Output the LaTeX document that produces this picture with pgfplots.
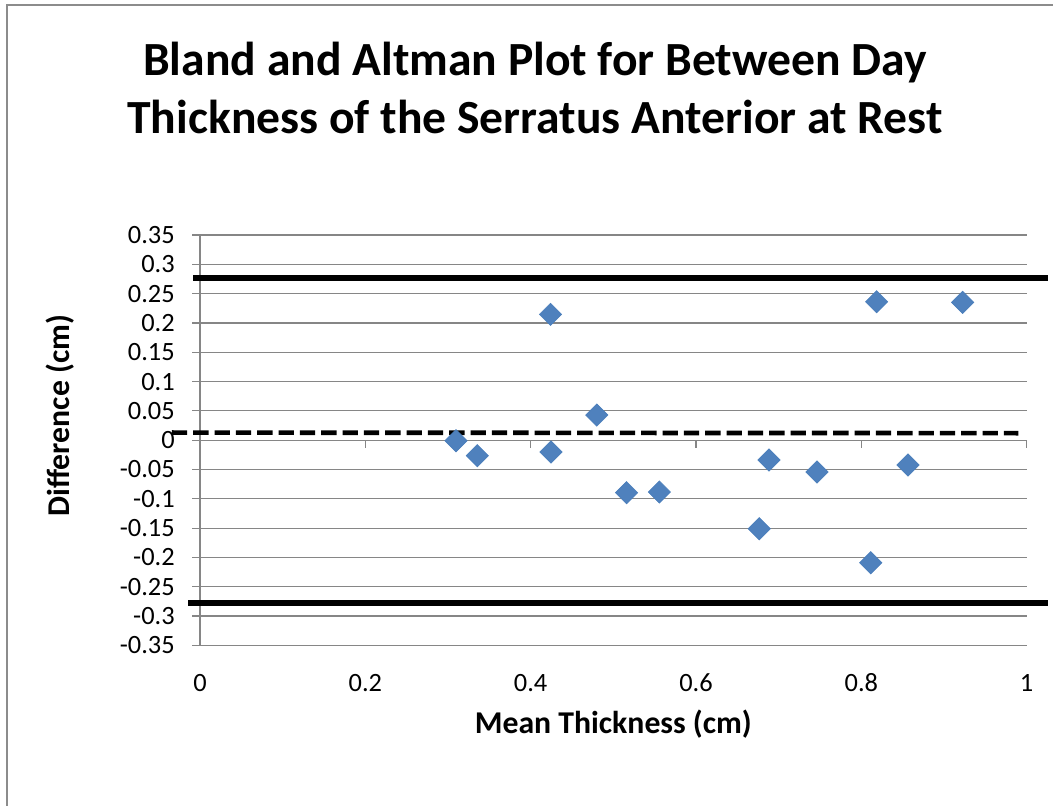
\documentclass[border=0pt]{standalone}
\usepackage{fontspec}
\setmainfont{Carlito}
\usepackage{pgfplots}
\pgfplotsset{compat=1.18}
\definecolor{gridgray}{HTML}{868686}
\definecolor{framegray}{HTML}{8C8C8C}
\definecolor{ptfill}{HTML}{4F81BD}
\definecolor{ptedge}{HTML}{4A7EBB}
\begin{document}
\begin{tikzpicture}
\useasboundingbox (-150pt,-120.5pt) rectangle (639.75pt,484pt);
\draw[framegray, line width=1.5pt] (-144.75pt,-130pt) -- (-144.75pt,480.2pt) -- (650pt,480.2pt);
\begin{axis}[
  at={(0,0)}, anchor=south west,
  scale only axis, width=620pt, height=307.7pt,
  xmin=0, xmax=1, ymin=-0.35, ymax=0.35,
  clip=false,
  axis line style={draw=none},
  xtick={0,0.2,0.4,0.6,0.8,1},
  xticklabels={0,0.2,0.4,0.6,0.8,1},
  ytick={-0.35,-0.3,-0.25,-0.2,-0.15,-0.1,-0.05,0,0.05,0.1,0.15,0.2,0.25,0.3,0.35},
  yticklabels={-0.35,-0.3,-0.25,-0.2,-0.15,-0.1,-0.05,0,0.05,0.1,0.15,0.2,0.25,0.3,0.35},
  ytick pos=left, xtick pos=bottom,
  tick align=outside, major tick length=6pt,
  xtick style={draw=none},
  ytick style={draw=gridgray, line width=0.9pt},
  ymajorgrids, major grid style={gridgray, line width=0.9pt},
  tick label style={font=\fontsize{19.8}{24}\selectfont, text=black},
  xticklabel style={anchor=base, yshift=-29pt},
  yticklabel style={anchor=east, inner sep=0pt, xshift=-12.75pt},
  xlabel={Mean Thickness (cm)},
  ylabel={Difference (cm)},
  label style={font=\fontsize{23.8}{28}\selectfont\bfseries},
  xlabel style={at={(axis description cs:0.5,-0.216)}, anchor=base},
  ylabel style={at={(axis description cs:-0.1573,0.56)}, anchor=base},
]
\draw[gridgray, line width=0.9pt] (axis cs:0,-0.35) -- (axis cs:0,0.35);
\draw[gridgray, line width=0.9pt] (axis cs:0,0) -- (axis cs:1,0);
\draw[gridgray, line width=0.9pt] (axis cs:0.2,0) -- ([yshift=-6pt]axis cs:0.2,0);
\draw[gridgray, line width=0.9pt] (axis cs:0.4,0) -- ([yshift=-6pt]axis cs:0.4,0);
\draw[gridgray, line width=0.9pt] (axis cs:0.6,0) -- ([yshift=-6pt]axis cs:0.6,0);
\draw[gridgray, line width=0.9pt] (axis cs:0.8,0) -- ([yshift=-6pt]axis cs:0.8,0);
\draw[gridgray, line width=0.9pt] (axis cs:1,0) -- ([yshift=-6pt]axis cs:1,0);
\addplot[only marks, mark=square*, mark size=5.9pt, mark options={rotate=45, fill=ptfill, draw=ptedge, line width=0.5pt}] coordinates {
(0.3097,-0.0009) (0.3355,-0.0265) (0.4240,0.2147) (0.4246,-0.0202)
(0.4800,0.0429) (0.5160,-0.0896) (0.5557,-0.0884) (0.6766,-0.1511)
(0.6883,-0.0339) (0.7464,-0.0543) (0.8113,-0.2091) (0.8185,0.2362)
(0.8564,-0.0424) (0.9226,0.2352)
};
\addplot[black, line width=4.5pt, no marks] coordinates {(-0.008,0.277) (1.026,0.277)};
\addplot[black, line width=4.5pt, no marks] coordinates {(-0.0145,-0.277) (1.026,-0.277)};
\addplot[black, line width=3.5pt, no marks, dash pattern=on 11.5pt off 4.5pt] coordinates {(-0.034,0.013) (0.99,0.012)};
\end{axis}
\node[anchor=base, font=\fontsize{35.7}{43}\selectfont\bfseries] at (251.25pt,427.5pt) {Bland and Altman Plot for Between Day};
\node[anchor=base, font=\fontsize{35.7}{43}\selectfont\bfseries] at (251.25pt,384pt) {Thickness of the Serratus Anterior at Rest};
\end{tikzpicture}
\end{document}
